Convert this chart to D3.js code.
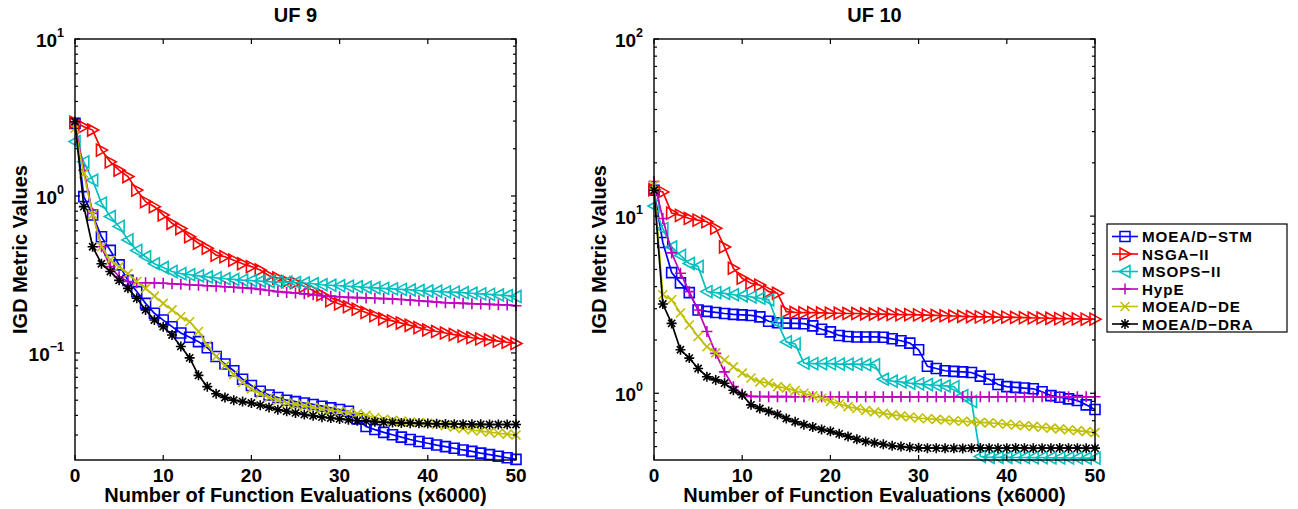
<!DOCTYPE html>
<html>
<head>
<meta charset="utf-8">
<script src="https://cdn.jsdelivr.net/npm/d3@7"></script>
<style>
  body { margin: 0; background: #fff; }
  text { font-family: "Liberation Sans", Arial, sans-serif; font-weight: bold; fill: #000; }
</style>
</head>
<body>
<svg id="chart" width="1298" height="509"></svg>
<script>
// x values: number of function evaluations (x6000)
const evaluations = [0,1,2,3,4,5,6,7,8,9,10,11,12,13,14,15,16,17,18,19,20,21,22,23,24,25,
  26,27,28,29,30,31,32,33,34,35,36,37,38,39,40,41,42,43,44,45,46,47,48,49,50];
const xTicks = [0, 10, 20, 30, 40, 50];
const methods = ["MOEA/D\u2212STM", "NSGA\u2212II", "MSOPS\u2212II", "HypE", "MOEA/D\u2212DE", "MOEA/D\u2212DRA"];

// UF 9 IGD values
const uf9Stm = [2.9,0.99,0.757,0.55,0.45,0.364,0.29,0.246,0.207,0.179,0.162,0.147,0.134,0.126,0.118,0.108,0.095,0.085,0.077,0.068,
  0.062,0.057,0.054,0.052,0.050,0.049,0.048,0.047,0.0458,0.0447,0.0436,0.0425,0.038,0.034,0.0325,0.0312,0.0301,0.0291,0.0281,0.0273,
  0.0266,0.0259,0.0253,0.0247,0.0241,0.0236,0.0230,0.0225,0.0220,0.0215,0.0210];
const uf9Nsga = [2.95,2.76,2.63,1.96,1.65,1.46,1.33,1.09,0.92,0.855,0.757,0.67,0.62,0.55,0.50,0.465,0.42,0.41,0.39,0.37,
  0.355,0.338,0.31,0.30,0.285,0.28,0.265,0.25,0.235,0.215,0.205,0.197,0.19,0.181,0.173,0.165,0.16,0.155,0.15,0.145,
  0.14,0.137,0.134,0.131,0.128,0.125,0.123,0.121,0.119,0.117,0.115];
const uf9Msops = [2.22,1.65,1.26,0.9,0.74,0.64,0.525,0.45,0.41,0.37,0.35,0.33,0.32,0.315,0.31,0.305,0.301,0.297,0.294,0.291,
  0.289,0.287,0.285,0.284,0.283,0.281,0.279,0.276,0.272,0.27,0.268,0.266,0.264,0.262,0.26,0.258,0.256,0.254,0.252,0.25,
  0.248,0.247,0.245,0.244,0.242,0.24,0.238,0.236,0.234,0.232,0.229];
const uf9Hype = [2.9,1.46,0.775,0.475,0.355,0.306,0.285,0.28,0.28,0.279,0.278,0.276,0.274,0.272,0.27,0.268,0.266,0.264,0.262,0.26,
  0.258,0.254,0.25,0.246,0.243,0.241,0.238,0.235,0.232,0.23,0.228,0.226,0.225,0.224,0.223,0.222,0.221,0.219,0.217,0.215,
  0.213,0.211,0.209,0.208,0.207,0.206,0.205,0.204,0.203,0.202,0.2];
const uf9De = [2.7,1.39,0.76,0.475,0.39,0.355,0.32,0.285,0.258,0.23,0.207,0.188,0.17,0.158,0.137,0.112,0.095,0.083,0.073,0.065,
  0.059,0.055,0.052,0.050,0.048,0.047,0.046,0.045,0.044,0.0432,0.0425,0.0418,0.041,0.040,0.0388,0.0378,0.0372,0.0368,0.0363,0.036,
  0.0357,0.035,0.0344,0.0337,0.033,0.0323,0.0318,0.0313,0.0308,0.0304,0.030];
const uf9Dra = [2.97,0.855,0.475,0.37,0.33,0.29,0.258,0.223,0.188,0.162,0.147,0.13,0.11,0.093,0.072,0.061,0.055,0.052,0.050,0.049,
  0.048,0.0465,0.045,0.0435,0.0425,0.0415,0.0405,0.0398,0.039,0.0385,0.038,0.0375,0.037,0.0368,0.0365,0.0362,0.036,0.0358,0.0357,0.0356,
  0.0355,0.0354,0.0353,0.0352,0.0352,0.0351,0.0351,0.035,0.035,0.035,0.035];

// UF 10 IGD values
const uf10Stm = [14,7.1,4.8,4.2,3.7,2.95,2.9,2.86,2.82,2.79,2.77,2.75,2.7,2.55,2.5,2.49,2.48,2.47,2.4,2.3,
  2.22,2.12,2.09,2.08,2.08,2.08,2.07,2.03,1.98,1.92,1.76,1.42,1.38,1.34,1.33,1.32,1.31,1.25,1.2,1.12,
  1.09,1.08,1.07,1.06,1.02,0.97,0.95,0.93,0.91,0.86,0.81];
const uf10Nsga = [14.1,13.7,10.4,10.1,9.7,9.5,9.3,8.55,6.7,5.08,4.46,4.18,4.08,3.75,3.67,2.89,2.86,2.85,2.85,2.84,
  2.83,2.83,2.82,2.82,2.81,2.8,2.8,2.79,2.78,2.78,2.77,2.76,2.75,2.74,2.73,2.72,2.71,2.7,2.7,2.69,
  2.69,2.68,2.67,2.66,2.66,2.65,2.64,2.64,2.63,2.62,2.62];
const uf10Msops = [11.4,8.5,6.7,6.0,5.4,5.2,3.75,3.7,3.66,3.6,3.55,3.5,3.44,3.37,2.5,1.95,1.9,1.48,1.47,1.47,
  1.47,1.46,1.46,1.46,1.45,1.45,1.2,1.17,1.16,1.14,1.13,1.12,1.11,1.1,1.09,0.97,0.9,0.44,0.435,0.435,
  0.435,0.434,0.434,0.433,0.433,0.432,0.432,0.431,0.431,0.43,0.43];
const uf10Hype = [15.7,9.7,6.2,4.76,3.75,2.95,2.23,1.68,1.32,1.09,0.99,0.96,0.958,0.957,0.957,0.957,0.956,0.956,0.956,0.956,
  0.956,0.956,0.955,0.955,0.955,0.955,0.955,0.955,0.955,0.955,0.955,0.955,0.955,0.955,0.955,0.955,0.955,0.955,0.955,0.955,
  0.955,0.955,0.955,0.955,0.955,0.955,0.955,0.955,0.955,0.955,0.955];
const uf10De = [15,3.6,3.37,2.84,2.43,2.09,1.83,1.69,1.54,1.41,1.3,1.22,1.16,1.14,1.09,1.07,1.035,1.0,0.966,0.937,
  0.9,0.87,0.84,0.82,0.8,0.785,0.77,0.755,0.745,0.735,0.725,0.718,0.712,0.706,0.7,0.695,0.69,0.685,0.68,0.675,
  0.668,0.662,0.656,0.65,0.643,0.636,0.629,0.622,0.615,0.607,0.6];
const uf10Dra = [14,3.19,2.48,1.76,1.58,1.38,1.24,1.19,1.14,1.04,0.98,0.86,0.82,0.79,0.76,0.72,0.69,0.665,0.645,0.625,
  0.61,0.59,0.57,0.55,0.535,0.525,0.515,0.505,0.5,0.495,0.492,0.49,0.49,0.489,0.489,0.488,0.49,0.491,0.49,0.489,
  0.49,0.491,0.49,0.489,0.49,0.49,0.491,0.49,0.49,0.489,0.49];

// look of each method (matlab default letters b r c m y k)
const styles = [
  { color: "#0000ff", marker: "square" },
  { color: "#ff0000", marker: "right" },
  { color: "#00bfbf", marker: "left" },
  { color: "#bf00bf", marker: "plus" },
  { color: "#bfbf00", marker: "cross" },
  { color: "#000000", marker: "star" }
];

const svg = d3.select("#chart");

// marker shapes as path strings, centred on 0,0
function markerPath(type) {
  switch (type) {
    case "square": return "M-5,-5H5V5H-5Z";
    case "right": return "M-5,-6L6,0L-5,6Z";
    case "left": return "M5,-6L-6,0L5,6Z";
    case "plus": return "M-5.5,0H5.5M0,-5.5V5.5";
    case "cross": return "M-4.5,-4.5L4.5,4.5M-4.5,4.5L4.5,-4.5";
    case "star": return "M-5,0H5M0,-5V5M-3.6,-3.6L3.6,3.6M-3.6,3.6L3.6,-3.6";
  }
}

function drawPanel(p) {
  const g = svg.append("g");
  const x = d3.scaleLinear().domain([0, 50]).range([p.left, p.left + p.width]);
  const y = d3.scaleLog().domain(p.yDomain).range([p.top + p.height, p.top]);

  // title
  g.append("text").attr("x", p.left + p.width / 2).attr("y", 22)
    .attr("text-anchor", "middle").style("font-size", "20px").text(p.title);

  const lineGen = d3.line().x((d, i) => x(evaluations[i])).y(d => y(d));

  p.series.forEach((vals, k) => {
    const st = styles[k];
    const s = g.append("g");
    s.append("path").datum(vals).attr("d", lineGen)
      .attr("fill", "none").attr("stroke", st.color).attr("stroke-width", 1.7);
    s.selectAll("path.m").data(vals).join("path").attr("class", "m")
      .attr("transform", (d, i) => `translate(${x(evaluations[i])},${y(d)})`)
      .attr("d", markerPath(st.marker))
      .attr("fill", "none").attr("stroke", st.color).attr("stroke-width", 1.6);
  });

  // box
  g.append("rect").attr("x", p.left).attr("y", p.top).attr("width", p.width).attr("height", p.height)
    .attr("fill", "none").attr("stroke", "#000").attr("stroke-width", 1.4);

  // x ticks (inside, bottom and top)
  xTicks.forEach(t => {
    const xx = x(t);
    g.append("line").attr("x1", xx).attr("x2", xx).attr("y1", p.top + p.height).attr("y2", p.top + p.height - 5)
      .attr("stroke", "#000").attr("stroke-width", 1.2);
    g.append("line").attr("x1", xx).attr("x2", xx).attr("y1", p.top).attr("y2", p.top + 5)
      .attr("stroke", "#000").attr("stroke-width", 1.2);
    g.append("text").attr("x", xx).attr("y", p.top + p.height + 22)
      .attr("text-anchor", "middle").style("font-size", "19px").text(t);
  });

  // y ticks, decades and minor ones
  const lo = Math.floor(Math.log10(p.yDomain[0])), hi = Math.ceil(Math.log10(p.yDomain[1]));
  for (let e = lo; e <= hi; e++) {
    for (let m = 1; m <= 9; m++) {
      const v = m * Math.pow(10, e);
      if (v < p.yDomain[0] * 0.999 || v > p.yDomain[1] * 1.001) continue;
      const yy = y(v), len = m === 1 ? 5 : 3;
      g.append("line").attr("x1", p.left).attr("x2", p.left + len).attr("y1", yy).attr("y2", yy)
        .attr("stroke", "#000").attr("stroke-width", 1.2);
      g.append("line").attr("x1", p.left + p.width).attr("x2", p.left + p.width - len).attr("y1", yy).attr("y2", yy)
        .attr("stroke", "#000").attr("stroke-width", 1.2);
      if (m === 1) {
        const t = g.append("text").attr("x", p.left - 11).attr("y", yy + 8)
          .attr("text-anchor", "end").style("font-size", "19px");
        t.append("tspan").text("10");
        t.append("tspan").attr("dy", -10).style("font-size", "12.5px").text(e < 0 ? "\u2212" + (-e) : e);
      }
    }
  }

  // axis labels
  g.append("text").attr("x", p.left + p.width / 2).attr("y", 502)
    .attr("text-anchor", "middle").style("font-size", "20px").text("Number of Function Evaluations (x6000)");
  g.append("text").attr("transform", `translate(${p.left - 55},${p.top + p.height / 2}) rotate(-90)`)
    .attr("text-anchor", "middle").attr("dy", "0.35em").style("font-size", "20px").text("IGD Metric Values");
}

drawPanel({ title: "UF 9", left: 75, top: 39, width: 441, height: 421, yDomain: [0.0208, 10],
  series: [uf9Stm, uf9Nsga, uf9Msops, uf9Hype, uf9De, uf9Dra] });
drawPanel({ title: "UF 10", left: 654, top: 39, width: 441, height: 421, yDomain: [0.42, 100],
  series: [uf10Stm, uf10Nsga, uf10Msops, uf10Hype, uf10De, uf10Dra] });

// legend
const leg = svg.append("g").attr("transform", "translate(1107,224)");
leg.append("rect").attr("width", 180).attr("height", 108).attr("fill", "#fff")
  .attr("stroke", "#000").attr("stroke-width", 1.2);
methods.forEach((name, k) => {
  const cy = 12.5 + k * 17.5;
  const st = styles[k];
  leg.append("line").attr("x1", 5).attr("x2", 31).attr("y1", cy).attr("y2", cy)
    .attr("stroke", st.color).attr("stroke-width", 1.6);
  leg.append("path").attr("transform", `translate(18,${cy})`).attr("d", markerPath(st.marker))
    .attr("fill", "none").attr("stroke", st.color).attr("stroke-width", 1.5);
  leg.append("text").attr("x", 35).attr("y", cy + 5.5).style("font-size", "15.2px")
    .attr("letter-spacing", "0.9px").text(name);
});
</script>
</body>
</html>
